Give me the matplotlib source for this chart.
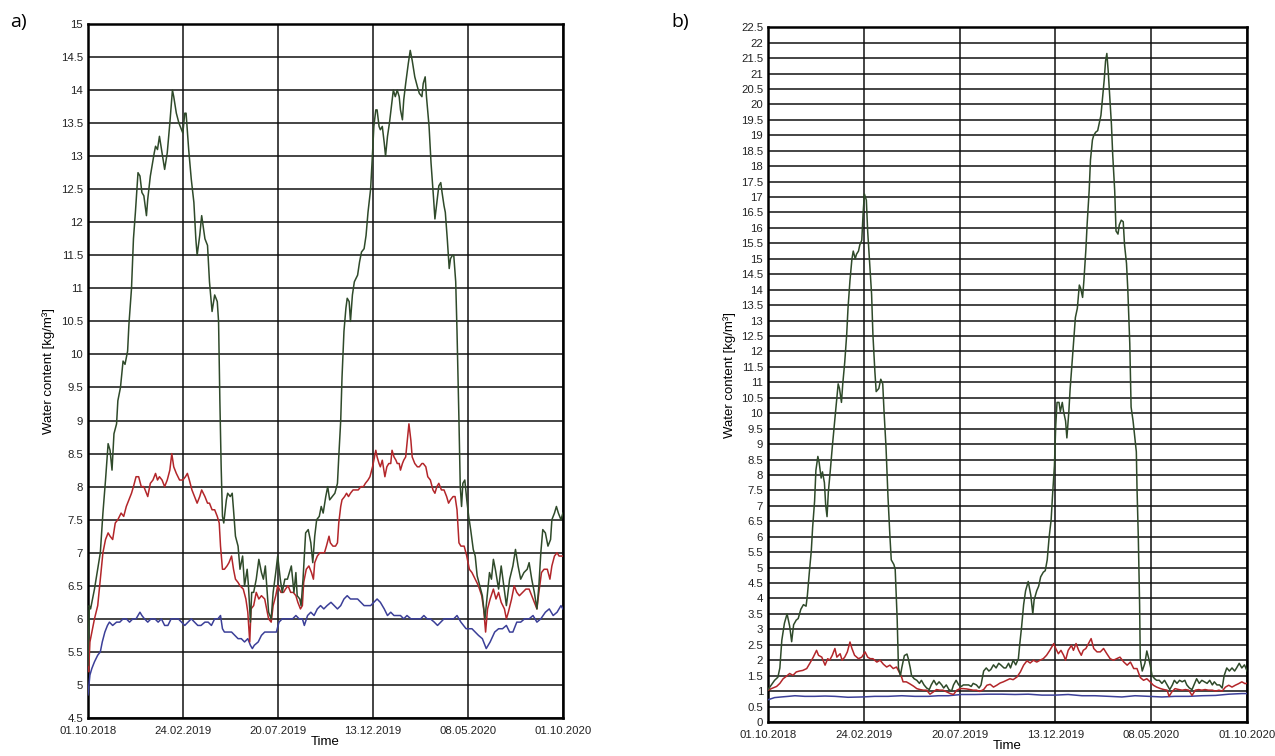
import matplotlib
matplotlib.use("Agg")
import matplotlib.pyplot as plt
import numpy as np

plt.rcParams["font.family"] = ["Liberation Sans Narrow", "Liberation Sans", "DejaVu Sans"]

# time axis: days since 01.10.2018
tick_labels = ["01.10.2018", "24.02.2019", "20.07.2019", "13.12.2019", "08.05.2020", "01.10.2020"]
total_days = 731

# ---- panel a) ----
a_green_day = [0, 2, 4, 10, 15, 19, 23, 27, 31, 34, 37, 40, 44, 46, 50, 54, 57, 61, 63, 67, 70, 73, 77, 80, 83, 86,
               90, 92, 96, 102, 104, 107, 110, 114, 118, 122, 126, 130, 132, 136, 140, 144, 146, 149, 151, 155, 159,
               163, 166, 168, 172, 175, 180, 184, 187, 191, 195, 199, 201, 203, 205, 207, 209, 213, 215, 219, 222,
               224, 227, 231, 234, 238, 241, 245, 247, 250, 252, 255, 259, 263, 267, 270, 273, 278, 282, 285, 289,
               292, 296, 299, 303, 307, 310, 313, 317, 320, 322, 326, 328, 331, 335, 339, 343, 346, 349, 352, 356,
               359, 362, 366, 369, 372, 376, 380, 384, 386, 389, 391, 394, 397, 399, 402, 404, 407, 410, 415, 418,
               421, 425, 428, 431, 435, 438, 440, 443, 445, 448, 450, 453, 456, 458, 461, 464, 467, 470, 473, 476,
               479, 481, 484, 486, 489, 493, 496, 499, 503, 507, 510, 514, 516, 519, 521, 525, 528, 532, 534, 537,
               540, 543, 545, 548, 550, 553, 556, 558, 561, 563, 566, 568, 571, 573, 575, 577, 580, 583, 586, 589,
               593, 596, 599, 603, 607, 611, 614, 618, 621, 624, 627, 632, 636, 640, 644, 649, 654, 658, 662, 666,
               671, 676, 679, 683, 687, 691, 694, 697, 700, 704, 708, 712, 714, 718, 721, 724, 728, 731]
a_green_val = [5.3, 6.2, 6.15, 6.45, 6.75, 7.0, 7.6, 8.1, 8.65, 8.55, 8.25, 8.8, 8.95, 9.3, 9.5, 9.9, 9.85, 10.05,
               10.45, 11.0, 11.75, 12.15, 12.75, 12.7, 12.45, 12.4, 12.1, 12.35, 12.7, 13.05, 13.15, 13.1, 13.3,
               13.05, 12.8, 13.05, 13.5, 14.0, 13.9, 13.65, 13.5, 13.4, 13.35, 13.65, 13.65, 13.1, 12.65, 12.3,
               11.75, 11.5, 11.8, 12.1, 11.75, 11.65, 11.1, 10.65, 10.9, 10.8, 10.5, 9.3, 8.3, 7.55, 7.45, 7.8,
               7.9, 7.85, 7.9, 7.65, 7.25, 7.1, 6.75, 6.95, 6.5, 6.75, 6.5, 5.95, 6.4, 6.4, 6.6, 6.9, 6.7, 6.6,
               6.8, 6.1, 6.0, 6.4, 6.7, 6.95, 6.6, 6.4, 6.6, 6.6, 6.7, 6.8, 6.4, 6.7, 6.35, 6.3, 6.2, 6.6, 7.3,
               7.35, 7.15, 6.85, 7.25, 7.5, 7.55, 7.7, 7.6, 7.85, 8.0, 7.8, 7.85, 7.9, 8.05, 8.45, 9.0, 9.65, 10.35,
               10.7, 10.85, 10.8, 10.5, 10.9, 11.1, 11.2, 11.4, 11.55, 11.6, 11.8, 12.15, 12.5, 13.05, 13.45, 13.7,
               13.7, 13.45, 13.4, 13.45, 13.2, 13.0, 13.3, 13.5, 13.75, 14.0, 13.9, 14.0, 13.9, 13.7, 13.55, 13.85,
               14.1, 14.4, 14.6, 14.45, 14.2, 14.05, 13.95, 13.9, 14.1, 14.2, 13.9, 13.45, 12.9, 12.35, 12.05, 12.3,
               12.55, 12.6, 12.45, 12.25, 12.15, 11.75, 11.3, 11.45, 11.5, 11.5, 11.1, 10.35, 9.0, 8.0, 7.7, 8.05,
               8.1, 7.8, 7.55, 7.35, 7.05, 6.95, 6.65, 6.5, 6.35, 6.0, 6.3, 6.7, 6.6, 6.9, 6.75, 6.45, 6.8, 6.5,
               6.2, 6.6, 6.8, 7.05, 6.8, 6.6, 6.7, 6.75, 6.85, 6.6, 6.4, 6.15, 6.5, 7.0, 7.35, 7.3, 7.1, 7.2, 7.5,
               7.6, 7.7, 7.6, 7.5, 7.6]

a_red_day = [0, 1, 3, 6, 10, 15, 19, 23, 27, 31, 34, 38, 42, 46, 51, 55, 59, 63, 67, 70, 74, 78, 82, 86, 90, 92,
             96, 100, 104, 107, 110, 114, 118, 122, 126, 129, 132, 136, 141, 146, 150, 153, 156, 160, 164, 168, 172,
             175, 180, 184, 187, 191, 195, 199, 202, 204, 207, 210, 214, 217, 221, 224, 227, 231, 234, 239, 243,
             246, 249, 251, 255, 259, 263, 267, 272, 278, 282, 285, 289, 292, 297, 301, 304, 308, 312, 316, 320,
             323, 327, 330, 332, 336, 340, 344, 347, 349, 353, 357, 361, 364, 367, 371, 373, 377, 381, 384, 386,
             389, 391, 395, 398, 401, 404, 408, 412, 416, 420, 424, 427, 431, 434, 438, 440, 443, 445, 448, 450,
             453, 457, 460, 463, 466, 468, 471, 474, 476, 479, 481, 484, 486, 489, 491, 494, 497, 499, 503, 507,
             510, 514, 516, 520, 523, 527, 531, 534, 537, 540, 544, 548, 552, 555, 558, 562, 565, 568, 571, 574,
             579, 583, 587, 591, 596, 601, 606, 609, 612, 615, 619, 624, 628, 632, 636, 641, 644, 647, 652, 656,
             660, 664, 669, 674, 679, 683, 687, 691, 694, 698, 702, 707, 711, 714, 718, 722, 725, 731]
a_red_val = [5.25, 5.2, 5.65, 5.8, 6.0, 6.2, 6.6, 7.0, 7.2, 7.3, 7.25, 7.2, 7.45, 7.5, 7.6, 7.55, 7.7, 7.8, 7.9,
             8.0, 8.15, 8.15, 8.0, 8.0, 7.9, 7.85, 8.05, 8.1, 8.2, 8.1, 8.15, 8.1, 8.0, 8.1, 8.25, 8.5, 8.3, 8.2,
             8.1, 8.1, 8.15, 8.2, 8.1, 7.95, 7.85, 7.75, 7.85, 7.95, 7.85, 7.75, 7.75, 7.65, 7.65, 7.55, 7.45, 7.1,
             6.75, 6.75, 6.8, 6.85, 6.95, 6.75, 6.6, 6.55, 6.5, 6.45, 6.3, 6.1, 5.65, 6.15, 6.2, 6.4, 6.3, 6.35,
             6.3, 6.0, 5.95, 6.2, 6.35, 6.5, 6.4, 6.4, 6.45, 6.5, 6.4, 6.4, 6.35, 6.25, 6.15, 6.2, 6.55, 6.75, 6.8,
             6.7, 6.6, 6.85, 6.95, 7.0, 7.0, 7.0, 7.1, 7.25, 7.15, 7.1, 7.1, 7.15, 7.45, 7.7, 7.8, 7.85, 7.9, 7.85,
             7.9, 7.95, 7.95, 7.95, 8.0, 8.0, 8.05, 8.1, 8.15, 8.3, 8.4, 8.55, 8.45, 8.35, 8.3, 8.4, 8.15, 8.3,
             8.35, 8.35, 8.55, 8.45, 8.4, 8.35, 8.35, 8.25, 8.35, 8.4, 8.45, 8.65, 8.95, 8.7, 8.45, 8.35, 8.3, 8.3,
             8.35, 8.35, 8.3, 8.15, 8.1, 7.95, 7.9, 8.0, 8.05, 7.95, 7.95, 7.85, 7.75, 7.8, 7.85, 7.85, 7.65, 7.15,
             7.1, 7.1, 6.95, 6.75, 6.7, 6.6, 6.5, 6.35, 6.15, 5.8, 6.15, 6.3, 6.45, 6.3, 6.4, 6.25, 6.15, 6.0, 6.1,
             6.3, 6.5, 6.4, 6.35, 6.4, 6.45, 6.45, 6.35, 6.25, 6.15, 6.4, 6.7, 6.75, 6.75, 6.6, 6.8, 6.95, 7.0,
             6.95, 6.95]

a_blue_day = [0, 3, 6, 10, 15, 19, 22, 26, 30, 33, 38, 44, 49, 54, 59, 64, 69, 74, 80, 83, 87, 92, 97, 103, 108,
              113, 118, 123, 128, 133, 139, 144, 149, 154, 159, 164, 169, 174, 180, 185, 190, 195, 200, 204, 207,
              210, 215, 221, 226, 231, 236, 241, 246, 250, 253, 256, 262, 267, 272, 277, 281, 286, 290, 294, 299,
              304, 309, 315, 320, 325, 330, 333, 338, 343, 348, 353, 358, 363, 368, 374, 379, 384, 389, 394, 399,
              404, 409, 415, 420, 425, 430, 435, 440, 445, 450, 456, 461, 466, 471, 476, 481, 486, 491, 497, 502,
              507, 512, 517, 522, 527, 533, 538, 543, 548, 553, 558, 563, 568, 574, 582, 591, 601, 607, 613, 619,
              626, 632, 638, 644, 649, 654, 660, 666, 672, 679, 685, 691, 697, 704, 710, 716, 722, 728, 731]
a_blue_val = [4.85, 5.15, 5.25, 5.35, 5.45, 5.5, 5.65, 5.8, 5.9, 5.95, 5.9, 5.95, 5.95, 6.0, 6.0, 5.95, 6.0, 6.0,
              6.1, 6.05, 6.0, 5.95, 6.0, 6.0, 5.95, 6.0, 5.9, 5.9, 6.0, 6.0, 6.0, 5.95, 5.9, 5.95, 6.0, 5.95, 5.9,
              5.9, 5.95, 5.95, 5.9, 6.0, 6.0, 6.05, 5.85, 5.8, 5.8, 5.8, 5.75, 5.7, 5.7, 5.65, 5.7, 5.6, 5.55, 5.6,
              5.65, 5.75, 5.8, 5.8, 5.8, 5.8, 5.8, 5.95, 6.0, 6.0, 6.0, 6.0, 6.05, 6.0, 6.0, 5.9, 6.05, 6.1, 6.05,
              6.15, 6.2, 6.15, 6.2, 6.25, 6.2, 6.15, 6.2, 6.3, 6.35, 6.3, 6.3, 6.3, 6.25, 6.2, 6.2, 6.2, 6.25, 6.3,
              6.25, 6.15, 6.05, 6.1, 6.05, 6.05, 6.05, 6.0, 6.05, 6.0, 6.0, 6.0, 6.0, 6.05, 6.0, 6.0, 5.95, 5.9,
              5.95, 6.0, 6.0, 6.0, 6.0, 6.05, 5.95, 5.85, 5.85, 5.75, 5.7, 5.55, 5.65, 5.8, 5.85, 5.85, 5.9, 5.8,
              5.8, 5.95, 5.95, 6.0, 6.0, 6.05, 5.95, 6.0, 6.1, 6.15, 6.05, 6.1, 6.2, 6.15]

# ---- panel b) ----
b_green_day = [0, 5, 10, 15, 18, 21, 25, 29, 33, 36, 39, 43, 46, 50, 54, 58, 60, 63, 66, 68, 71, 73, 76, 78, 81,
               83, 86, 88, 90, 92, 95, 98, 101, 103, 107, 109, 112, 114, 117, 120, 122, 125, 128, 130, 133, 135,
               138, 140, 143, 145, 147, 150, 152, 155, 158, 160, 163, 165, 169, 172, 175, 177, 180, 183, 186, 188,
               192, 194, 197, 199, 202, 204, 208, 212, 214, 217, 219, 223, 227, 231, 234, 238, 242, 246, 249, 253,
               257, 261, 265, 268, 272, 276, 280, 283, 287, 291, 295, 298, 302, 306, 310, 313, 318, 322, 325, 329,
               333, 337, 340, 344, 348, 352, 355, 360, 363, 367, 370, 374, 378, 382, 384, 387, 390, 393, 397, 401,
               404, 406, 410, 413, 416, 420, 423, 426, 429, 432, 434, 437, 439, 441, 444, 446, 449, 451, 454, 456,
               459, 461, 464, 467, 469, 472, 475, 477, 480, 482, 485, 487, 490, 492, 495, 497, 500, 503, 505, 508,
               510, 513, 515, 517, 519, 521, 524, 526, 529, 531, 534, 536, 539, 542, 544, 547, 549, 552, 554, 557,
               559, 562, 563, 565, 567, 568, 571, 575, 578, 581, 584, 586, 590, 593, 597, 601, 605, 609, 613, 617,
               620, 624, 628, 632, 636, 639, 643, 647, 651, 654, 658, 662, 666, 670, 674, 678, 681, 685, 689, 693,
               696, 700, 704, 708, 712, 715, 719, 723, 727, 731]
b_green_val = [1.05, 1.2, 1.35, 1.45, 1.75, 2.65, 3.2, 3.5, 3.1, 2.6, 3.15, 3.3, 3.35, 3.65, 3.8, 3.75, 4.1, 4.85,
               5.55, 6.3, 7.15, 8.15, 8.6, 8.4, 7.9, 8.1, 7.75, 7.0, 6.65, 7.45, 8.15, 8.9, 9.6, 10.05, 10.95, 10.8,
               10.35, 10.95, 11.65, 12.55, 13.4, 14.3, 15.0, 15.25, 15.0, 15.15, 15.25, 15.45, 15.6, 16.45, 17.1,
               16.9, 15.9, 14.85, 13.85, 12.55, 11.35, 10.7, 10.8, 11.1, 10.95, 10.05, 8.9, 7.3, 6.0, 5.25, 5.1,
               4.95, 3.35, 1.75, 1.5, 1.75, 2.15, 2.2, 2.05, 1.75, 1.5, 1.4, 1.35, 1.25, 1.35, 1.2, 1.1, 1.05, 1.2,
               1.35, 1.2, 1.3, 1.2, 1.1, 1.2, 1.05, 1.0, 1.2, 1.35, 1.2, 1.15, 1.2, 1.2, 1.2, 1.15, 1.25, 1.2, 1.1,
               1.2, 1.65, 1.75, 1.65, 1.7, 1.85, 1.75, 1.9, 1.85, 1.75, 1.75, 1.9, 1.75, 2.0, 1.85, 2.05, 2.5, 3.1,
               3.8, 4.25, 4.55, 4.1, 3.5, 3.95, 4.25, 4.4, 4.7, 4.85, 4.9, 5.25, 6.0, 6.55, 7.3, 8.3, 9.6, 10.35,
               10.35, 10.05, 10.35, 10.05, 9.75, 9.2, 10.05, 10.8, 11.65, 12.55, 13.1, 13.4, 14.15, 14.05, 13.75,
               14.3, 15.3, 16.15, 17.2, 18.2, 18.85, 19.0, 19.1, 19.15, 19.35, 19.65, 20.1, 20.8, 21.4, 21.65,
               21.1, 20.4, 19.35, 18.35, 17.2, 15.9, 15.8, 16.1, 16.25, 16.2, 15.45, 14.85, 14.0, 12.25, 10.2, 9.75,
               9.35, 8.75, 7.6, 6.0, 3.8, 2.05, 1.65, 1.9, 2.3, 2.05, 1.75, 1.5, 1.4, 1.35, 1.35, 1.25, 1.35, 1.2,
               1.05, 1.2, 1.35, 1.25, 1.35, 1.3, 1.35, 1.2, 1.1, 1.05, 1.25, 1.4, 1.25, 1.35, 1.3, 1.25, 1.35, 1.2,
               1.3, 1.2, 1.2, 1.1, 1.5, 1.75, 1.65, 1.75, 1.65, 1.75, 1.9, 1.75, 1.85, 1.65]

b_red_day = [0, 5, 13, 18, 23, 28, 33, 38, 43, 48, 53, 59, 64, 69, 74, 77, 82, 87, 91, 94, 98, 102, 105, 110, 113,
             117, 121, 125, 128, 132, 138, 143, 148, 152, 156, 160, 166, 171, 176, 181, 186, 191, 196, 200, 204,
             206, 211, 216, 222, 227, 232, 237, 242, 247, 252, 257, 262, 267, 273, 278, 283, 288, 293, 298, 303,
             308, 313, 318, 323, 329, 334, 339, 344, 349, 354, 359, 364, 369, 374, 380, 385, 390, 395, 400, 405,
             410, 415, 420, 425, 430, 436, 439, 443, 447, 451, 454, 458, 463, 466, 470, 474, 478, 481, 485, 489,
             493, 497, 502, 507, 512, 517, 522, 527, 532, 537, 543, 548, 553, 558, 563, 568, 573, 578, 583, 588,
             593, 599, 604, 609, 612, 616, 621, 627, 632, 637, 642, 647, 652, 657, 662, 667, 672, 678, 683, 688,
             693, 698, 703, 708, 713, 718, 723, 728, 731]
b_red_val = [1.03, 1.08, 1.15, 1.25, 1.4, 1.48, 1.57, 1.51, 1.62, 1.65, 1.67, 1.73, 1.91, 2.1, 2.32, 2.16, 2.1,
             1.84, 2.05, 2.0, 2.16, 2.38, 2.1, 2.21, 2.0, 2.1, 2.27, 2.59, 2.38, 2.16, 2.05, 2.1, 2.27, 2.1, 2.05,
             2.05, 1.94, 2.0, 1.87, 1.78, 1.84, 1.73, 1.78, 1.62, 1.44, 1.3, 1.3, 1.24, 1.16, 1.08, 1.05, 1.03,
             1.03, 0.9, 0.97, 1.05, 1.03, 1.03, 0.97, 0.92, 0.89, 1.03, 1.08, 1.08, 1.07, 1.05, 1.03, 1.03, 0.99,
             1.05, 1.19, 1.22, 1.13, 1.19, 1.26, 1.3, 1.35, 1.4, 1.37, 1.46, 1.62, 1.84, 1.98, 1.91, 2.0, 1.94,
             2.0, 2.05, 2.16, 2.32, 2.54, 2.38, 2.21, 2.32, 2.16, 2.0, 2.32, 2.48, 2.32, 2.54, 2.32, 2.16, 2.32,
             2.38, 2.54, 2.7, 2.38, 2.27, 2.27, 2.38, 2.21, 2.05, 2.0, 2.05, 2.1, 1.94, 1.84, 1.94, 1.73, 1.73,
             1.44, 1.35, 1.4, 1.3, 1.19, 1.13, 1.08, 1.05, 1.03, 0.83, 0.97, 1.08, 1.05, 1.03, 1.05, 1.03, 0.86,
             1.03, 1.05, 1.03, 1.05, 1.03, 1.03, 1.0, 1.03, 1.0, 1.13, 1.19, 1.13, 1.19, 1.24, 1.3, 1.24, 1.26]

b_blue_day = [0, 10, 20, 31, 41, 56, 71, 87, 102, 122, 143, 163, 183, 204, 224, 245, 260, 275, 295, 316, 336, 357,
              377, 397, 418, 438, 458, 479, 499, 520, 540, 560, 581, 601, 621, 642, 662, 683, 703, 723, 731]
b_blue_val = [0.72, 0.79, 0.81, 0.83, 0.85, 0.83, 0.83, 0.84, 0.83, 0.8, 0.81, 0.83, 0.83, 0.85, 0.83, 0.83, 0.85,
              0.85, 0.89, 0.89, 0.9, 0.9, 0.89, 0.9, 0.87, 0.87, 0.89, 0.85, 0.85, 0.83, 0.81, 0.85, 0.83, 0.81,
              0.83, 0.83, 0.85, 0.86, 0.9, 0.92, 0.92]

GREEN = "#2f4a2a"
RED = "#b3262a"
BLUE = "#3b3f98"


def draw_panel(ax, series, ylim):
    for day, val, color in series:
        ax.plot(day, val, color=color, lw=1.1, zorder=3)
    ax.set_xlim(0, total_days)
    ax.set_ylim(*ylim)
    ax.set_xticks(np.linspace(0, total_days, len(tick_labels)))
    ax.set_xticklabels(tick_labels)
    yt = np.arange(ylim[0], ylim[1] + 0.01, 0.5)
    ax.set_yticks(yt)
    ax.set_yticklabels([f"{v:g}" for v in yt])
    ax.grid(True, color="#111111", lw=1.1, zorder=1)
    ax.tick_params(length=0, labelsize=8.2, colors="#222222")
    ax.tick_params(axis="x", pad=5.5)
    ax.tick_params(axis="y", pad=3.5)
    for sp in ax.spines.values():
        sp.set_linewidth(1.8)
    ax.set_xlabel("Time", fontsize=9.5, labelpad=0.5)
    ax.set_ylabel("Water content [kg/m³]", fontsize=9.5, labelpad=4)


fig = plt.figure(figsize=(12.75, 7.56), dpi=100)
ax_a = fig.add_axes([0.069, 0.0503, 0.3725, 0.918])
ax_b = fig.add_axes([0.6024, 0.045, 0.3757, 0.919])

draw_panel(ax_a, [(a_blue_day, a_blue_val, BLUE), (a_red_day, a_red_val, RED),
                  (a_green_day, a_green_val, GREEN)], (4.5, 15))
draw_panel(ax_b, [(b_blue_day, b_blue_val, BLUE), (b_red_day, b_red_val, RED),
                  (b_green_day, b_green_val, GREEN)], (0, 22.5))

for x, letter in [(10, "a)"), (671, "b)")]:
    fig.text(x / 1275, 1 - 22 / 756, letter, fontsize=14, va="center", ha="left",
             family=["Open Sans", "DejaVu Sans"])

fig.savefig("out.png", dpi=100)
